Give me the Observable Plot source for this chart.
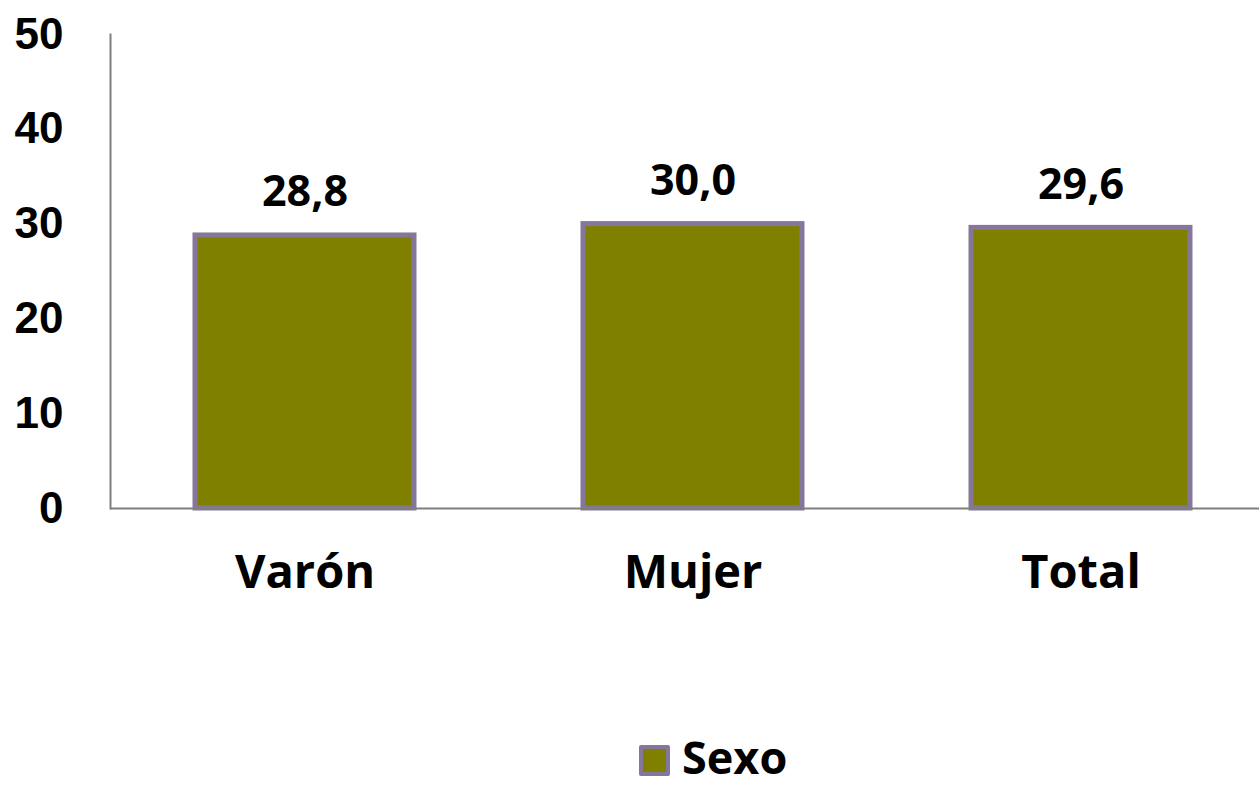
<!DOCTYPE html>
<html>
<head>
<meta charset="utf-8">
<script src="https://cdn.jsdelivr.net/npm/d3@7"></script>
<script src="https://cdn.jsdelivr.net/npm/@observablehq/plot@0.6"></script>
<style>
  html, body { margin: 0; padding: 0; background: #fff; overflow: hidden; }
  #chart svg { display: block; overflow: visible; }
  .legend { display: flex; align-items: center; height: 31px; margin-top: 5px; padding-left: 639px; }
  .legend .sw { width: 23px; height: 23px; background: #808000; border: 4px solid #85779c; border-radius: 2px; }
  .legend .lb { font-family: "Open Sans", sans-serif; font-weight: bold; font-size: 45px; line-height: 0.8; margin-left: 12px; color: #000; position: relative; top: -4px; }
</style>
</head>
<body>
<div id="chart"></div>
<div class="legend"><div class="sw"></div><div class="lb">Sexo</div></div>
<script>
const categories = ["Varón", "Mujer", "Total"];
const values = [28.8, 30.0, 29.6];
const yTicks = [0, 10, 20, 30, 40, 50];
const seriesName = "Sexo";

const data = categories.map((c, i) => ({ cat: c, value: values[i] }));
const fmt = v => v.toFixed(1).replace(".", ",");

const chart = Plot.plot({
  width: 1259,
  height: 740,
  marginLeft: 110,
  marginRight: 0,
  marginTop: 34,
  marginBottom: 232,
  x: { domain: categories, range: [110, 1274], paddingInner: 0.436, paddingOuter: 0.218, axis: null },
  y: { domain: [0, 50], range: [508, 34], axis: null },
  marks: [
    Plot.barY(data, { x: "cat", y: "value", fill: "#808000", stroke: "#85779c", strokeWidth: 5 }),
    Plot.ruleY([0], { stroke: "#7f7f7f", strokeWidth: 2 }),
    Plot.frame({ anchor: "left", stroke: "#7f7f7f", strokeWidth: 2 }),
    Plot.axisY(yTicks, { label: null, tickSize: 0, tickPadding: 47, fontSize: 44, fontWeight: "bold", fontFamily: "Liberation Sans, Arial, sans-serif", fill: "#000", tickFormat: d => String(d) }),
    Plot.text(data, { x: "cat", y: "value", text: d => fmt(d.value), dy: -43, lineAnchor: "middle", fontSize: 43, fontWeight: "bold", fontFamily: "Open Sans, sans-serif", fill: "#000" }),
    Plot.text(data, { x: "cat", y: 0, text: "cat", dy: 64, lineAnchor: "middle", fontSize: 47, fontWeight: "bold", fontFamily: "Open Sans, sans-serif", fill: "#000" })
  ]
});
document.getElementById("chart").appendChild(chart);
</script>
</body>
</html>
